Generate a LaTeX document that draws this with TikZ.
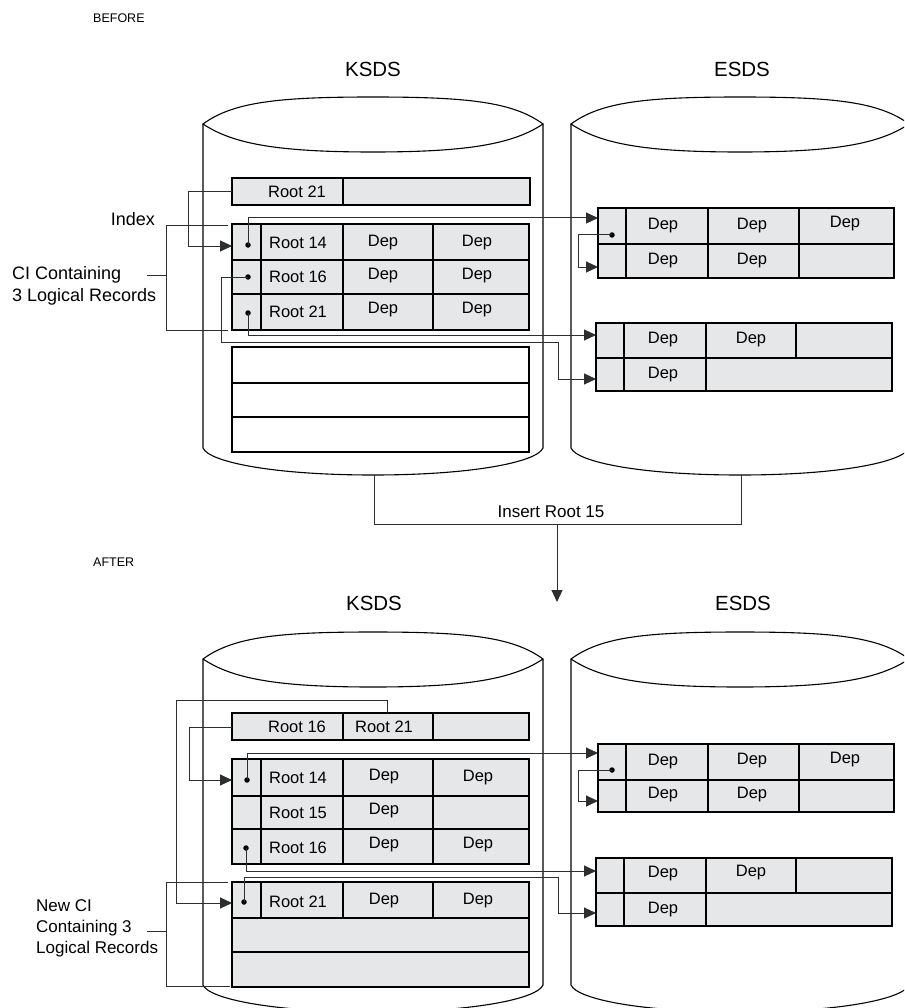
\documentclass[tikz,border=0pt]{standalone}
\usepackage{fontspec}
\setmainfont{Liberation Sans}
\usetikzlibrary{arrows.meta}
\definecolor{boxgray}{HTML}{E6E7E8}
\definecolor{wiregray}{HTML}{2E2E2E}
\newcommand{\dbcyl}[4]{%
  \draw[cylline] (#1,#3) .. controls ({#1+30},{#3-22}) and ({(#1+#2)/2-95},{#3-27}) .. ({(#1+#2)/2},{#3-27})
     .. controls ({(#1+#2)/2+95},{#3-27}) and ({#2-30},{#3-22}) .. (#2,#3)
     .. controls ({#2-30},{#3+20}) and ({(#1+#2)/2+95},{#3+28}) .. ({(#1+#2)/2},{#3+28})
     .. controls ({(#1+#2)/2-95},{#3+28}) and ({#1+30},{#3+20}) .. cycle;
  \draw[cylline] (#1,#3) -- (#1,#4) .. controls ({#1+6},{#4+14}) and ({(#1+#2)/2-100},{#4+27}) .. ({(#1+#2)/2},{#4+27})
     .. controls ({(#1+#2)/2+100},{#4+27}) and ({#2-6},{#4+14}) .. (#2,#4) -- (#2,#3);
}
\newcommand{\cellbox}[6][boxgray]{%
  \node[box, fill=#1, anchor=north west, minimum width={#5-#3}, minimum height={#6-#4}] (#2) at (#3,#4) {};
}
\begin{document}
\begin{tikzpicture}[x=1pt,y=-1pt,
  cylline/.style={line width=1.1pt, draw=black},
  box/.style={draw=black, line width=1.2pt, inner sep=0pt, outer sep=0pt},
  wire/.style={line width=1pt, draw=wiregray},
  arr/.style={wire, -{Triangle[length=12pt,width=11pt]}},
  celltxt/.style={font=\fontsize{16.5}{19}\selectfont, inner sep=0pt},
  lbl/.style={font=\fontsize{18}{22}\selectfont, inner sep=0pt, align=left},
  hdr/.style={font=\fontsize{20.5}{22}\selectfont, inner sep=0pt},
  small/.style={font=\fontsize{12.5}{15}\selectfont, inner sep=0pt},
  dotnode/.style={circle, fill=black, inner sep=0pt, minimum size=5.5pt}]
\useasboundingbox (0,0) rectangle (904,1008);
\clip (0,0) rectangle (904,1008);
\fill[white] (0,0) rectangle (904,1008);

% ---------------- BEFORE ----------------
\node[small, anchor=west] (before) at (93,18) {BEFORE};
\node[hdr] (ksdsA) at (373,69) {KSDS};
\node[hdr] (esdsA) at (742,69) {ESDS};
\dbcyl{203}{543}{124}{448}
\dbcyl{571}{909}{124}{448}

% index CI
\cellbox{ia1}{232}{178}{343}{205}
\cellbox{ia2}{343}{178}{530}{205}
\node[celltxt] (ia1t) at (297,192) {Root 21};

% data CI
\cellbox{a11}{232}{224}{261}{260}\cellbox{a12}{261}{224}{343}{260}\cellbox{a13}{343}{224}{433}{260}\cellbox{a14}{433}{224}{529}{260}
\cellbox{a21}{232}{260}{261}{294}\cellbox{a22}{261}{260}{343}{294}\cellbox{a23}{343}{260}{433}{294}\cellbox{a24}{433}{260}{529}{294}
\cellbox{a31}{232}{294}{261}{330}\cellbox{a32}{261}{294}{343}{330}\cellbox{a33}{343}{294}{433}{330}\cellbox{a34}{433}{294}{529}{330}
\node[celltxt] (a12t) at (298,243) {Root 14};
\node[celltxt] (a13t) at (383,243) {Dep};
\node[celltxt] (a14t) at (477,243) {Dep};
\node[celltxt] (a22t) at (298,277) {Root 16};
\node[celltxt] (a23t) at (383,276) {Dep};
\node[celltxt] (a24t) at (477,276) {Dep};
\node[celltxt] (a32t) at (298,312) {Root 21};
\node[celltxt] (a33t) at (383,310) {Dep};
\node[celltxt] (a34t) at (477,310) {Dep};

% empty CI
\cellbox[white]{b1}{232}{347}{529}{383}
\cellbox[white]{b2}{232}{383}{529}{417}
\cellbox[white]{b3}{232}{417}{529}{452}

% ESDS CIs
\cellbox{e11}{598}{208}{626}{244}\cellbox{e12}{626}{208}{708}{244}\cellbox{e13}{708}{208}{799}{244}\cellbox{e14}{799}{208}{894}{244}
\cellbox{e21}{598}{244}{626}{278}\cellbox{e22}{626}{244}{708}{278}\cellbox{e23}{708}{244}{799}{278}\cellbox{e24}{799}{244}{894}{278}
\node[celltxt] (e12t) at (663,226) {Dep};
\node[celltxt] (e13t) at (752,226) {Dep};
\node[celltxt] (e14t) at (845,224) {Dep};
\node[celltxt] (e22t) at (663,261) {Dep};
\node[celltxt] (e23t) at (752,261) {Dep};

\cellbox{f11}{596}{323}{624}{358}\cellbox{f12}{624}{323}{706}{358}\cellbox{f13}{706}{323}{796}{358}\cellbox{f14}{796}{323}{892}{358}
\cellbox{f21}{596}{358}{624}{391}\cellbox{f22}{624}{358}{706}{391}\cellbox{f23}{706}{358}{892}{391}
\node[celltxt] (f12t) at (663,340) {Dep};
\node[celltxt] (f13t) at (751,340) {Dep};
\node[celltxt] (f22t) at (663,375) {Dep};

% labels
\node[lbl, anchor=east] (index) at (155,219) {Index};
\node[lbl, anchor=west] (cilbl) at (12,286) {CI Containing\\3 Logical Records};

% dots and connector ends
\node[dotnode] (pa1) at (248,245) {};
\node[dotnode] (pa2) at (248,277) {};
\node[dotnode] (pa3) at (248,313) {};
\node[dotnode] (pe1) at (612,235) {};
\coordinate (ia1w) at (232,192);
\coordinate (a11w) at (232,246);
\coordinate (e11w) at (598,218);
\coordinate (e21w) at (598,267);
\coordinate (f11w) at (596,335);
\coordinate (f21w) at (596,379);
\coordinate (brA1) at (228,226);
\coordinate (brA2) at (228,330);
\coordinate (brAm) at (147,275);

\draw[arr] (ia1w) -- (188,192) -- (188,246) -- (a11w);
\draw[arr] (pa1.center) -- (248,218) -- (e11w);
\draw[arr] (pe1.center) -- (578,235) -- (578,267) -- (e21w);
\draw[arr] (pa2.center) -- (221,277) -- (221,342) -- (558,342) -- (558,379) -- (f21w);
\draw[arr] (pa3.center) -- (248,335) -- (f11w);
\draw[wire] (brA1) -- (166,226) -- (166,330) -- (brA2);
\draw[wire] (brAm) -- (166,275);

% Insert
\coordinate (ksdsAb) at (374,475);
\coordinate (esdsAb) at (741,475);
\coordinate (ins) at (557,524);
\coordinate (insT) at (557,602);
\draw[wire] (ksdsAb) -- (374,524) -- (741,524) -- (esdsAb);
\draw[arr] (ins) -- (insT);
\node[font=\fontsize{17}{19}\selectfont, inner sep=0pt] (instxt) at (551,512) {Insert Root 15};

% ---------------- AFTER ----------------
\node[small, anchor=west] (after) at (93,562) {AFTER};
\node[hdr] (ksdsB) at (374,603) {KSDS};
\node[hdr] (esdsB) at (743,603) {ESDS};
\dbcyl{203}{543}{659}{985}
\dbcyl{571}{909}{659}{985}

\cellbox{ib1}{232}{713}{343}{740}
\cellbox{ib2}{343}{713}{433}{740}
\cellbox{ib3}{433}{713}{529}{740}
\node[celltxt] (ib1t) at (297,727) {Root 16};
\node[celltxt] (ib2t) at (384,727) {Root 21};

\cellbox{c11}{232}{759}{261}{796}\cellbox{c12}{261}{759}{343}{796}\cellbox{c13}{343}{759}{433}{796}\cellbox{c14}{433}{759}{529}{796}
\cellbox{c21}{232}{796}{261}{829}\cellbox{c22}{261}{796}{343}{829}\cellbox{c23}{343}{796}{433}{829}\cellbox{c24}{433}{796}{529}{829}
\cellbox{c31}{232}{829}{261}{864}\cellbox{c32}{261}{829}{343}{864}\cellbox{c33}{343}{829}{433}{864}\cellbox{c34}{433}{829}{529}{864}
\node[celltxt] (c12t) at (298,778) {Root 14};
\node[celltxt] (c13t) at (384,777) {Dep};
\node[celltxt] (c14t) at (478,778) {Dep};
\node[celltxt] (c22t) at (298,813) {Root 15};
\node[celltxt] (c23t) at (384,811) {Dep};
\node[celltxt] (c32t) at (298,848) {Root 16};
\node[celltxt] (c33t) at (384,845) {Dep};
\node[celltxt] (c34t) at (478,845) {Dep};

\cellbox{d11}{232}{882}{261}{918}\cellbox{d12}{261}{882}{343}{918}\cellbox{d13}{343}{882}{433}{918}\cellbox{d14}{433}{882}{529}{918}
\cellbox{d2}{232}{918}{529}{952}
\cellbox{d3}{232}{952}{529}{987}
\node[celltxt] (d12t) at (298,902) {Root 21};
\node[celltxt] (d13t) at (384,901) {Dep};
\node[celltxt] (d14t) at (478,901) {Dep};

\cellbox{g11}{598}{744}{626}{780}\cellbox{g12}{626}{744}{708}{780}\cellbox{g13}{708}{744}{799}{780}\cellbox{g14}{799}{744}{894}{780}
\cellbox{g21}{598}{780}{626}{812}\cellbox{g22}{626}{780}{708}{812}\cellbox{g23}{708}{780}{799}{812}\cellbox{g24}{799}{780}{894}{812}
\node[celltxt] (g12t) at (663,762) {Dep};
\node[celltxt] (g13t) at (752,761) {Dep};
\node[celltxt] (g14t) at (845,760) {Dep};
\node[celltxt] (g22t) at (663,795) {Dep};
\node[celltxt] (g23t) at (752,795) {Dep};

\cellbox{h11}{596}{858}{624}{893}\cellbox{h12}{624}{858}{706}{893}\cellbox{h13}{706}{858}{796}{893}\cellbox{h14}{796}{858}{892}{893}
\cellbox{h21}{596}{893}{624}{926}\cellbox{h22}{624}{893}{706}{926}\cellbox{h23}{706}{893}{892}{926}
\node[celltxt] (h12t) at (663,874) {Dep};
\node[celltxt] (h13t) at (751,873) {Dep};
\node[celltxt] (h22t) at (663,910) {Dep};

\node[lbl, font=\fontsize{17}{21}\selectfont, anchor=west] (newci) at (36,928) {New CI\\Containing 3\\Logical Records};

\node[dotnode] (pc1) at (247,780) {};
\node[dotnode] (pc3) at (246,848) {};
\node[dotnode] (pd1) at (244,902) {};
\node[dotnode] (pg1) at (612,770) {};
\coordinate (ib1w) at (232,727);
\coordinate (ib2n) at (387,713);
\coordinate (c11w) at (232,780);
\coordinate (d11w) at (232,903);
\coordinate (g11w) at (598,753);
\coordinate (g21w) at (598,801);
\coordinate (h11w) at (596,871);
\coordinate (h21w) at (596,913);
\coordinate (brB1) at (228,882);
\coordinate (brB2) at (230,986);
\coordinate (brBm) at (147,931);

\draw[arr] (ib1w) -- (189,727) -- (189,780) -- (c11w);
\draw[arr] (ib2n) -- (387,700) -- (176,700) -- (176,903) -- (d11w);
\draw[arr] (pc1.center) -- (247,753) -- (g11w);
\draw[arr] (pg1.center) -- (578,770) -- (578,801) -- (g21w);
\draw[arr] (pc3.center) -- (246,871) -- (h11w);
\draw[arr] (pd1.center) -- (244,877) -- (558,877) -- (558,913) -- (h21w);
\draw[wire] (brB1) -- (166,882) -- (166,986) -- (brB2);
\draw[wire] (brBm) -- (166,931);
\end{tikzpicture}
\end{document}
